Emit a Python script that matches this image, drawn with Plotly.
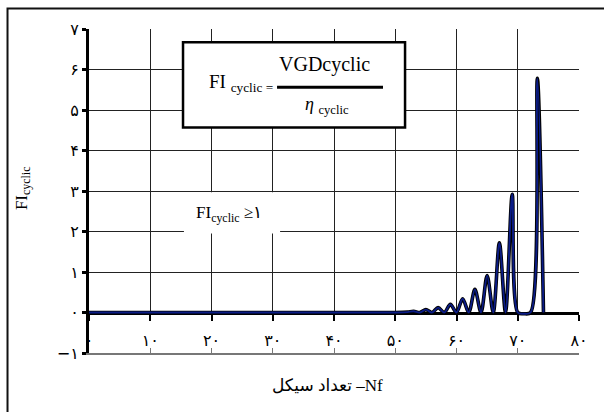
import plotly.graph_objects as go

# ---- data ----
cycles = [0, 50, 52, 53, 54, 55, 56, 57, 58, 59, 60, 61, 62, 63, 64, 65, 66, 67, 68,
          69.1, 70.0, 71, 72.1, 73.2, 74.2]
fi_cyclic = [0, 0, 0.01, 0.03, 0, 0.07, 0, 0.12, 0, 0.2, 0, 0.34, 0, 0.57, 0, 0.91, 0,
             1.72, 0, 2.92, 0, -0.03, 0, 5.78, 0]

x_ticks = [0, 10, 20, 30, 40, 50, 60, 70, 80]
x_tick_text = ["۰", "۱۰", "۲۰", "۳۰", "۴۰", "۵۰", "۶۰", "۷۰", "۸۰"]
y_ticks = [-1, 0, 1, 2, 3, 4, 5, 6, 7]
y_tick_text = ["−۱", "۰", "۱", "۲", "۳", "۴", "۵", "۶", "۷"]

x_title = "تعداد سیکل –Nf"
y_title = "FI<sub>cyclic</sub>"
formula_lhs = "FI <sub>cyclic =</sub>"
formula_num = "VGDcyclic"
formula_den = "<i>η</i> <sub>cyclic</sub>"
condition = "FI<sub>cyclic</sub> ≥۱"

SERIF = "Liberation Serif, DejaVu Sans"
ARAB = "DejaVu Sans"

fig = go.Figure()
fig.add_trace(go.Scatter(x=cycles, y=fi_cyclic, mode="lines",
                         line=dict(color="#000000", width=3.6, shape="spline", smoothing=0.9),
                         showlegend=False, hoverinfo="skip"))
fig.add_trace(go.Scatter(x=cycles, y=fi_cyclic, mode="lines", xaxis="x2",
                         line=dict(color="#0b1c86", width=1.9, shape="spline", smoothing=0.9),
                         showlegend=False, hoverinfo="skip"))

fig.update_layout(
    width=604, height=412,
    margin=dict(l=89, r=25, t=29, b=59, autoexpand=False),
    paper_bgcolor="white", plot_bgcolor="white",
    xaxis=dict(range=[0, 80], tickvals=x_ticks, ticktext=x_tick_text,
               anchor="free", position=0.125, automargin=False,
               showline=True, linecolor="black", linewidth=3,
               ticks="outside", ticklen=6, tickwidth=2, tickcolor="black",
               ticklabelstandoff=6,
               showgrid=True, gridcolor="#222222", gridwidth=1, zeroline=False,
               tickfont=dict(family=ARAB, size=16, color="black"),
               layer="below traces"),
    xaxis2=dict(range=[0, 80], overlaying="x", anchor="y", side="bottom", automargin=False,
                showline=True, linecolor="#777777", linewidth=1.5,
                tickvals=x_ticks, ticks="inside", ticklen=5, tickwidth=1, tickcolor="#777777",
                showticklabels=False, showgrid=False, zeroline=False),
    yaxis=dict(range=[-1, 7], tickvals=y_ticks, ticktext=y_tick_text, automargin=False,
               showline=True, linecolor="black", linewidth=3,
               ticks="outside", ticklen=4, tickwidth=3, tickcolor="black",
               showgrid=True, gridcolor="#222222", gridwidth=1, zeroline=False,
               tickfont=dict(family=ARAB, size=16, color="black")),
)

shapes = [
    # white band hiding grid between 0 and -1
    dict(type="rect", xref="x", yref="y", x0=0.2, x1=80.4, y0=-0.97, y1=-0.04,
         fillcolor="white", line=dict(width=0), layer="between"),
    # white backdrop of the condition label
    dict(type="rect", xref="x", yref="y", x0=15.5, x1=31.2, y0=1.95, y1=2.97,
         fillcolor="white", line=dict(width=0), layer="between"),
    # formula box
    dict(type="rect", xref="x", yref="y", x0=15.35, x1=51.6, y0=4.57, y1=6.67,
         fillcolor="white", line=dict(color="black", width=2.5), layer="above"),
    # fraction bar
    dict(type="line", xref="x", yref="y", x0=30.7, x1=48.0, y0=5.56, y1=5.56,
         line=dict(color="black", width=3), layer="above"),
    # outer frame
    dict(type="rect", xref="paper", yref="paper", x0=-0.1663, x1=1.1, y0=-0.25, y1=1.0630,
         fillcolor="rgba(0,0,0,0)", line=dict(color="#111111", width=2), layer="above"),
]
fig.update_layout(shapes=shapes)

ann = [
    dict(text=formula_lhs, xref="x", yref="y", x=19.2, y=5.66, xanchor="left", yanchor="middle",
         font=dict(family=SERIF, size=19, color="black"), showarrow=False),
    dict(text=formula_num, xref="x", yref="y", x=38.5, y=6.12, xanchor="center", yanchor="middle",
         font=dict(family=SERIF, size=20, color="black"), showarrow=False),
    dict(text=formula_den, xref="x", yref="y", x=38.9, y=5.12, xanchor="center", yanchor="middle",
         font=dict(family=SERIF, size=18, color="black"), showarrow=False),
    dict(text=condition, xref="x", yref="y", x=17.2, y=2.44, xanchor="left", yanchor="middle",
         font=dict(family=SERIF, size=17, color="black"), showarrow=False),
    dict(text=y_title, xref="paper", yref="paper", x=-0.1347, y=0.509, textangle=-90,
         xanchor="center", yanchor="middle",
         font=dict(family=SERIF, size=17, color="black"), showarrow=False),
    dict(text=x_title, xref="paper", yref="paper", x=0.486, y=-0.099,
         xanchor="center", yanchor="middle",
         font=dict(family=SERIF, size=17, color="black"), showarrow=False),
]
fig.update_layout(annotations=ann)

fig.write_html("out.html", config={"displayModeBar": False},
               post_script="document.body.style.margin='0';document.body.style.overflow='hidden';")
